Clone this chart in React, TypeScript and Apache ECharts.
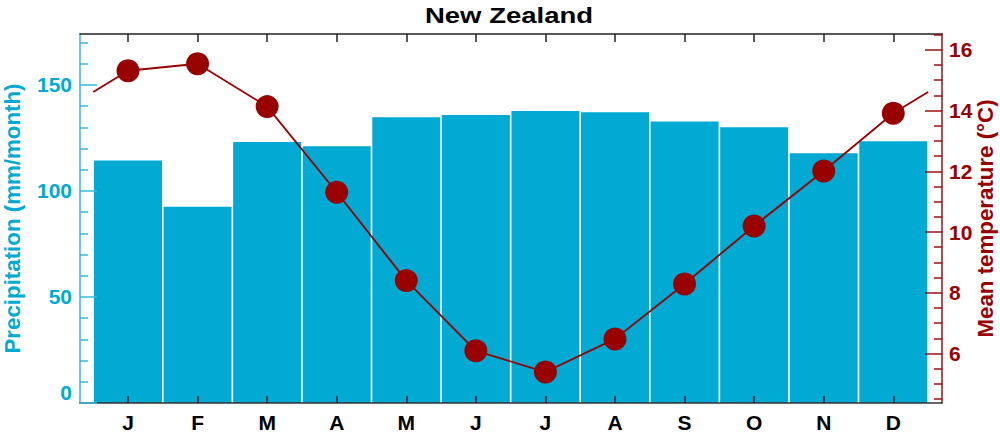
import React, { useEffect, useRef } from "react";
import * as echarts from "echarts";

const months = ["J", "F", "M", "A", "M", "J", "J", "A", "S", "O", "N", "D"];
const monthIndex = [0, 1, 2, 3, 4, 5, 6, 7, 8, 9, 10, 11];
const precipitation = [114.3, 92.5, 123.1, 121.1, 134.8, 135.8, 137.7, 137.1, 132.7, 130.0, 117.8, 123.4];
const temperature = [15.31, 15.54, 14.13, 11.31, 8.4, 6.09, 5.39, 6.48, 8.29, 10.2, 12.01, 13.91];

const precipMajor = [0, 50, 100, 150];
const precipMinor = [10, 20, 30, 40, 60, 70, 80, 90, 110, 120, 130, 140, 160, 170];
const tempMajor = [6, 8, 10, 12, 14, 16];
const tempMinor = [4.5, 5, 5.5, 6.5, 7, 7.5, 8.5, 9, 9.5, 10.5, 11, 11.5, 12.5, 13, 13.5, 14.5, 15, 15.5, 16.5];

const CYAN = "#00aad2";
const CYAN_AXIS = "#36b9dc";
const RED = "#990000";
const RED_AXIS = "#a01010";
const FONT = "Liberation Sans, Arial, sans-serif";

export default function App() {
  const ref = useRef<HTMLDivElement>(null);
  useEffect(() => {
    if (!ref.current) return;
    const chart = echarts.init(ref.current, null, { renderer: "svg" });
    const edgeTemp = (temperature[0] + temperature[11]) / 2;
    const lineData: any[] = [
      { value: [-0.5, edgeTemp], symbol: "none" },
      ...monthIndex.map((i) => [i, temperature[i]]),
      { value: [11.5, edgeTemp], symbol: "none" },
    ];
    const xMin = -0.69;
    const xMax = 11.7;
    chart.setOption({
      animation: false,
      textStyle: { fontFamily: FONT },
      graphic: [
        {
          type: "text",
          x: 509,
          y: 15,
          scaleX: 1.25,
          style: {
            text: "New Zealand",
            fontSize: 22,
            fontWeight: "bold",
            fontFamily: FONT,
            fill: "#000",
            align: "center",
            verticalAlign: "middle",
          },
        },
      ],
      grid: { left: 80, right: 58, top: 34, bottom: 31, containLabel: false, outerBoundsMode: "none" },
      xAxis: [
        {
          type: "value",
          position: "bottom",
          min: xMin,
          max: xMax,
          z: 10,
          axisLine: { show: true, onZero: false, lineStyle: { color: "#333", width: 1.5 } },
          axisTick: { show: true, inside: true, length: 7, customValues: monthIndex, lineStyle: { color: "#222", width: 1.5 } },
          axisLabel: {
            show: true,
            customValues: monthIndex,
            formatter: (v: number) => months[Math.round(v)],
            fontSize: 21,
            fontWeight: "bold",
            color: "#000",
            margin: 9,
            fontFamily: FONT,
          },
          splitLine: { show: false },
        },
        {
          type: "value",
          position: "top",
          min: xMin,
          max: xMax,
          z: 10,
          axisLine: { show: true, onZero: false, lineStyle: { color: "#222", width: 1.5 } },
          axisTick: { show: true, inside: true, length: 8, customValues: monthIndex, lineStyle: { color: "#222", width: 1.5 } },
          axisLabel: { show: false },
          splitLine: { show: false },
        },
      ],
      yAxis: [
        {
          type: "value",
          position: "left",
          min: 0,
          max: 174,
          z: 10,
          axisLine: { show: true, onZero: false, lineStyle: { color: CYAN_AXIS, width: 1.5 } },
          axisTick: { show: true, inside: true, length: 17, customValues: precipMajor, lineStyle: { color: CYAN_AXIS, width: 1.5 } },
          axisLabel: {
            customValues: precipMajor,
            color: CYAN,
            fontSize: 21,
            fontWeight: "bold",
            margin: 8,
            fontFamily: FONT,
            verticalAlignMinLabel: "bottom",
          },
          splitLine: { show: false },
          name: "Precipitation (mm/month)",
          nameLocation: "middle",
          nameRotate: 90,
          nameGap: 57,
          nameMoveOverlap: false,
          nameTextStyle: { color: CYAN, fontSize: 22.3, fontWeight: "bold", fontFamily: FONT },
        },
        {
          type: "value",
          position: "right",
          min: 4.37,
          max: 16.52,
          z: 10,
          axisLine: { show: true, onZero: false, lineStyle: { color: RED_AXIS, width: 1.5 } },
          axisTick: { show: true, inside: true, length: 17, customValues: tempMajor, lineStyle: { color: RED_AXIS, width: 1.5 } },
          axisLabel: {
            customValues: tempMajor,
            color: RED,
            fontSize: 21,
            fontWeight: "bold",
            margin: 7,
            fontFamily: FONT,
          },
          splitLine: { show: false },
          name: "Mean temperature (°C)",
          nameLocation: "middle",
          nameRotate: 90,
          nameGap: 32,
          nameMoveOverlap: false,
          nameTextStyle: { color: RED, fontSize: 22.3, fontWeight: "bold", fontFamily: FONT },
        },
        {
          type: "value",
          position: "left",
          min: 0,
          max: 174,
          z: 10,
          axisLine: { show: false, onZero: false },
          axisTick: { show: true, inside: true, length: 8, customValues: precipMinor, lineStyle: { color: CYAN_AXIS, width: 1.5 } },
          axisLabel: { show: false },
          splitLine: { show: false },
        },
        {
          type: "value",
          position: "right",
          min: 4.37,
          max: 16.52,
          z: 10,
          axisLine: { show: false, onZero: false },
          axisTick: { show: true, inside: true, length: 8, customValues: tempMinor, lineStyle: { color: RED_AXIS, width: 1.5 } },
          axisLabel: { show: false },
          splitLine: { show: false },
        },
      ],
      series: [
        {
          type: "bar",
          xAxisIndex: 0,
          yAxisIndex: 0,
          data: monthIndex.map((i) => [i, precipitation[i]]),
          barWidth: 68,
          itemStyle: { color: CYAN },
          z: 2,
        },
        {
          type: "line",
          xAxisIndex: 0,
          yAxisIndex: 1,
          data: lineData,
          symbol: "circle",
          symbolSize: 23,
          showAllSymbol: true,
          lineStyle: { color: RED, width: 1.8 },
          itemStyle: { color: RED },
          z: 3,
        },
      ],
    });
    return () => chart.dispose();
  }, []);
  return (
    <div
      ref={ref}
      style={{ position: "fixed", left: 0, top: 0, width: 1000, height: 434, background: "#fff" }}
    />
  );
}
